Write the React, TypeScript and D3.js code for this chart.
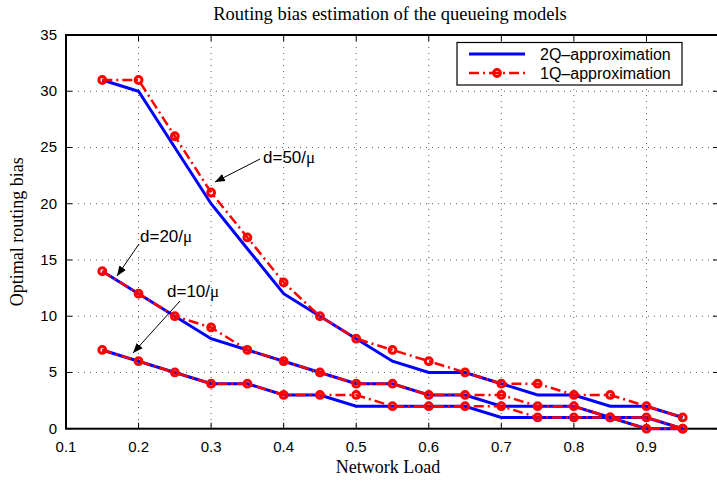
import React from "react";
import * as d3 from "d3";

const loads = [0.15, 0.2, 0.25, 0.3, 0.35, 0.4, 0.45, 0.5, 0.55, 0.6, 0.65, 0.7, 0.75, 0.8, 0.85, 0.9, 0.95];
const q2d50 = [31, 30, 25, 20, 16, 12, 10, 8, 6, 5, 5, 4, 3, 3, 2, 2, 1];
const q1d50 = [31, 31, 26, 21, 17, 13, 10, 8, 7, 6, 5, 4, 4, 3, 3, 2, 1];
const q2d20 = [14, 12, 10, 8, 7, 6, 5, 4, 4, 3, 3, 2, 2, 2, 1, 1, 0];
const q1d20 = [14, 12, 10, 9, 7, 6, 5, 4, 4, 3, 3, 3, 2, 2, 1, 1, 0];
const q2d10 = [7, 6, 5, 4, 4, 3, 3, 2, 2, 2, 2, 1, 1, 1, 1, 0, 0];
const q1d10 = [7, 6, 5, 4, 4, 3, 3, 3, 2, 2, 2, 2, 1, 1, 1, 0, 0];
const xTicks = [0.1, 0.2, 0.3, 0.4, 0.5, 0.6, 0.7, 0.8, 0.9, 1];
const xTickLabels = ["0.1", "0.2", "0.3", "0.4", "0.5", "0.6", "0.7", "0.8", "0.9", ""];
const yTicks = [0, 5, 10, 15, 20, 25, 30, 35];
const seriesNames = ["2Q\u2013approximation", "1Q\u2013approximation"];
const title = "Routing bias estimation of the queueing models";
const xLabel = "Network Load";
const yLabel = "Optimal routing bias";

const L = 66, R = 719, T = 35, B = 428.7;
const sans = "'Liberation Sans', Arial, Helvetica, sans-serif";
const serif = "'Liberation Serif', 'Times New Roman', serif";

export default function App() {
  const x = d3.scaleLinear().domain([0.1, 1.0]).range([L, R]);
  const y = d3.scaleLinear().domain([0, 35]).range([B, T]);
  const line = d3.line<number>().x((_, i) => x(loads[i])).y((v) => y(v));
  const blue = [q2d50, q2d20, q2d10];
  const red = [q1d50, q1d20, q1d10];
  const redDash = "10,4,2,4";
  const mr = 3.4, msw = 3;

  const annots = [
    { text: "d=50/", tx: 263, ty: 163, ax1: 260, ay1: 159, ax2: 215, ay2: 182 },
    { text: "d=20/", tx: 140, ty: 242, ax1: 139, ay1: 244, ax2: 117, ay2: 276 },
    { text: "d=10/", tx: 167, ty: 297, ax1: 180, ay1: 301, ax2: 133, ay2: 353 },
  ];

  return (
    <div style={{ position: "absolute", left: 0, top: 0 }}>
      <svg width={717} height={483} style={{ display: "block", background: "#fff" }}>
        <defs>
          <marker id="ah" viewBox="0 0 10 10" refX="10" refY="5" markerWidth="10" markerHeight="10" markerUnits="userSpaceOnUse" orient="auto">
            <path d="M0,1 L10,5 L0,9 Z" fill="#000" />
          </marker>
        </defs>
        {xTicks.map((t) => (
          <line key={"gx" + t} x1={x(t)} x2={x(t)} y1={T} y2={B} stroke="#333" strokeWidth={0.8} strokeDasharray="1,5" />
        ))}
        {yTicks.map((t) => (
          <line key={"gy" + t} x1={L} x2={R} y1={y(t)} y2={y(t)} stroke="#333" strokeWidth={0.8} strokeDasharray="1,5" />
        ))}
        {xTicks.map((t, i) => (
          <g key={"tx" + t}>
            <line x1={x(t)} x2={x(t)} y1={B} y2={B - 6} stroke="#000" strokeWidth={1} />
            <line x1={x(t)} x2={x(t)} y1={T} y2={T + 6} stroke="#000" strokeWidth={1} />
            <text x={x(t)} y={452} textAnchor="middle" fontFamily={sans} fontSize={15}>{xTickLabels[i]}</text>
          </g>
        ))}
        {yTicks.map((t) => (
          <g key={"ty" + t}>
            <line x1={L} x2={L + 6} y1={y(t)} y2={y(t)} stroke="#000" strokeWidth={1} />
            <line x1={R} x2={R - 6} y1={y(t)} y2={y(t)} stroke="#000" strokeWidth={1} />
            <text x={57} y={y(t) + 5} textAnchor="end" fontFamily={sans} fontSize={15}>{t}</text>
          </g>
        ))}
        <rect x={L} y={T} width={R - L} height={B - T} fill="none" stroke="#000" strokeWidth={2} />
        {blue.map((s, i) => (
          <path key={"b" + i} d={line(s) || ""} fill="none" stroke="#0000ff" strokeWidth={3} />
        ))}
        {red.map((s, i) => (
          <g key={"r" + i}>
            <path d={line(s) || ""} fill="none" stroke="#ff0000" strokeWidth={2.5} strokeDasharray={redDash} />
            {s.map((v, j) => (
              <circle key={j} cx={x(loads[j])} cy={y(v)} r={mr} fill="none" stroke="#ff0000" strokeWidth={msw} />
            ))}
          </g>
        ))}
        {annots.map((a, i) => (
          <g key={"a" + i}>
            <line x1={a.ax1} y1={a.ay1} x2={a.ax2} y2={a.ay2} stroke="#000" strokeWidth={1} markerEnd="url(#ah)" />
            <text x={a.tx} y={a.ty} fontFamily={sans} fontSize={17}>
              {a.text}
              <tspan fontFamily={serif}>{"\u03bc"}</tspan>
            </text>
          </g>
        ))}
        <rect x={457} y={42.5} width={225} height={42.5} fill="#fff" stroke="#000" strokeWidth={1.2} />
        <line x1={469} x2={525} y1={54} y2={54} stroke="#0000ff" strokeWidth={3} />
        <line x1={469} x2={525} y1={73} y2={73} stroke="#ff0000" strokeWidth={2.5} strokeDasharray={redDash} />
        <circle cx={497} cy={73} r={mr} fill="none" stroke="#ff0000" strokeWidth={msw} />
        <text x={540} y={59.5} fontFamily={sans} fontSize={16}>{seriesNames[0]}</text>
        <text x={540} y={78.5} fontFamily={sans} fontSize={16}>{seriesNames[1]}</text>
        <text x={390} y={20} textAnchor="middle" fontFamily={serif} fontSize={18.5}>{title}</text>
        <text x={388} y={473} textAnchor="middle" fontFamily={serif} fontSize={18}>{xLabel}</text>
        <text transform={`translate(23,${(T + B) / 2}) rotate(-90)`} textAnchor="middle" fontFamily={serif} fontSize={18}>{yLabel}</text>
      </svg>
    </div>
  );
}
